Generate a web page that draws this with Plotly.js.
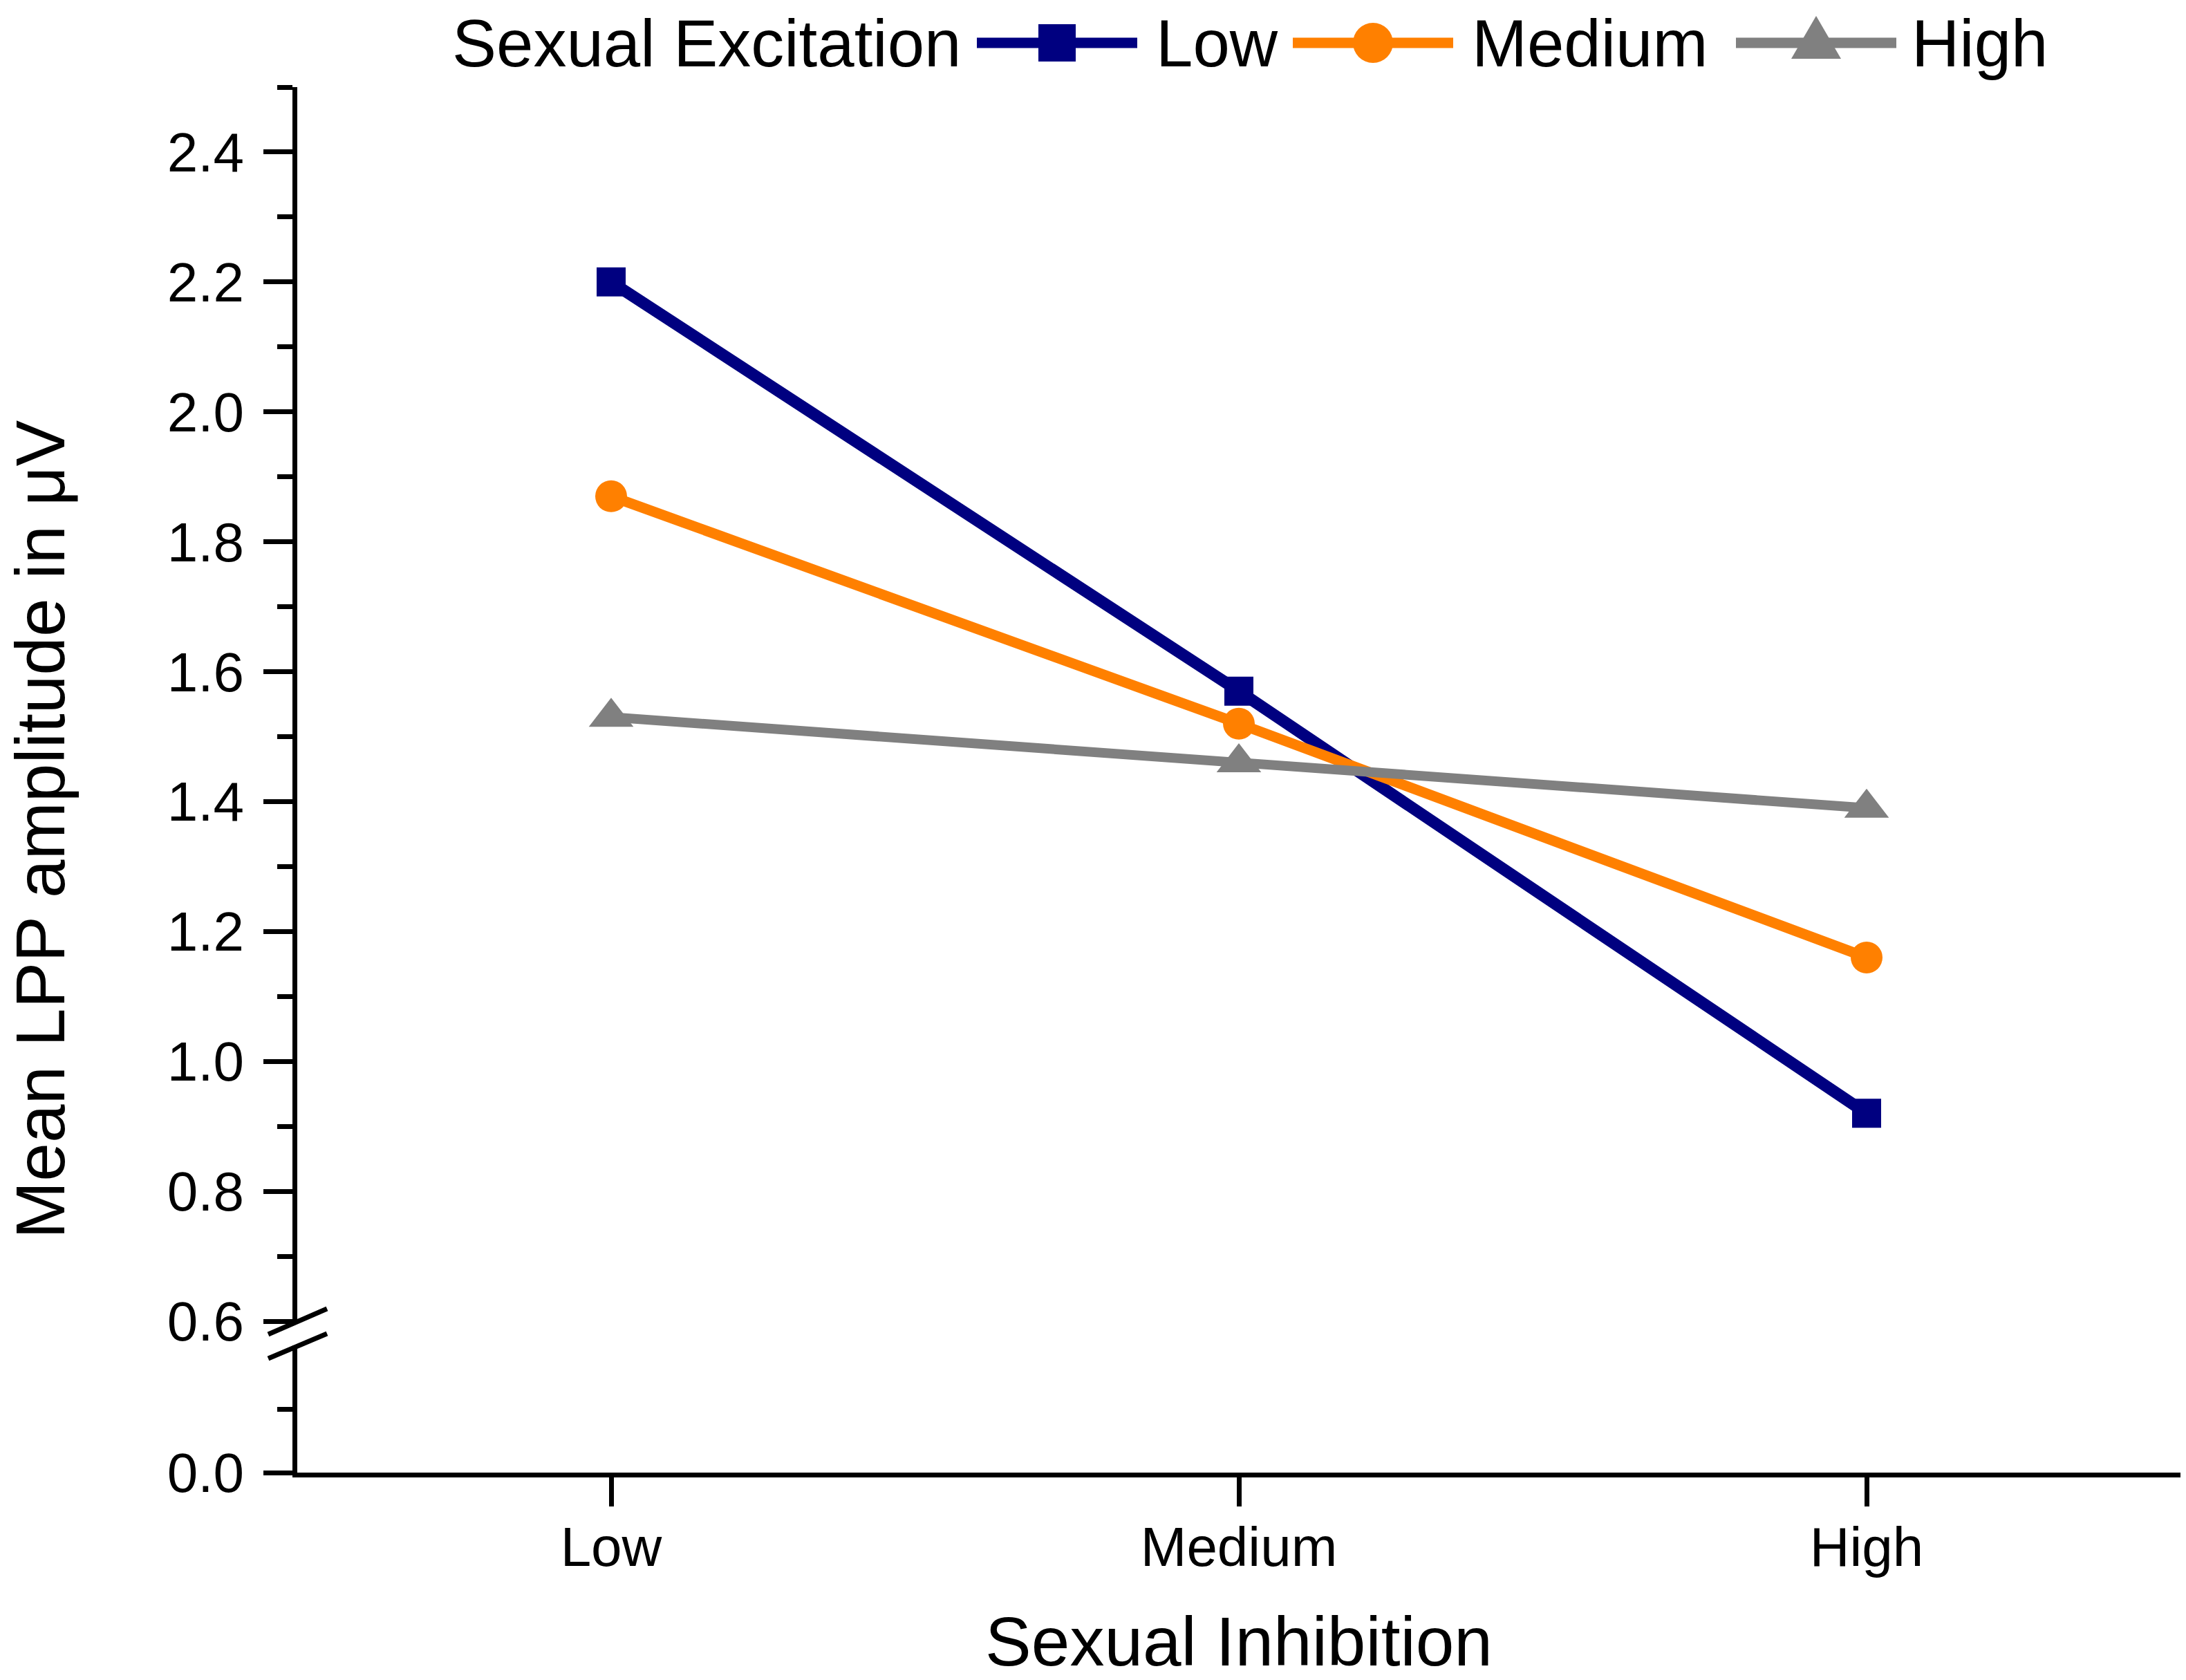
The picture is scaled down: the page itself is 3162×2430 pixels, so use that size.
<!DOCTYPE html>
<html>
<head>
<meta charset="utf-8">
<script src="https://cdn.plot.ly/plotly-3.0.1.min.js"></script>
<style>html,body{margin:0;padding:0;background:#fff}</style>
</head>
<body>
<div id="myDiv" style="width:3162px;height:2430px"></div>
<script>
// data
let inhibition = ['Low', 'Medium', 'High']
let seLow = [2.20, 1.57, 0.92]
let seMedium = [1.87, 1.52, 1.16]
let seHigh = [1.53, 1.46, 1.39]

let seriesNames = ['Low', 'Medium', 'High']
let seriesValues = [seLow, seMedium, seHigh]
let seriesColors = ['#000080', '#FF8000', '#808080']
let seriesSymbols = ['square', 'circle', 'triangle-up']
let markerSizes = [42, 46, 56]
let lineWidths = [17, 15, 14]

let upperTicks = [0.6, 0.8, 1.0, 1.2, 1.4, 1.6, 1.8, 2.0, 2.2, 2.4]
let lowerTicks = [0.0]
let lowerMinor = [0.3]

let legendTitle = 'Sexual Excitation'
let xTitle = 'Sexual Inhibition'
let yTitle = 'Mean LPP amplitude in μV'

// page geometry (pixels)
let W = 3162, H = 2430
let L = 430, R = 3154, T = 126, B = 2130
let lowerTop = 1946, upperBottom = 1911
let FONT = 'Arial, "Liberation Sans", sans-serif'

function px(x) { return (x - L) / (R - L) }
function py(y) { return (B - y) / (B - T) }

let data1 = []
for (let i = 0; i < seriesNames.length; i++) {
  data1.push({
    x: inhibition,
    y: seriesValues[i],
    name: seriesNames[i],
    xaxis: 'x',
    yaxis: 'y2',
    mode: 'lines+markers',
    type: 'scatter',
    cliponaxis: false,
    line: { color: seriesColors[i], width: lineWidths[i] },
    marker: { symbol: seriesSymbols[i], size: markerSizes[i], color: seriesColors[i] }
  })
}
// empty trace so the lower (0 - 0.6) part of the broken axis gets drawn
data1.push({ x: [], y: [], xaxis: 'x', yaxis: 'y', type: 'scatter', mode: 'lines', showlegend: false, hoverinfo: 'skip' })

let axisStyle = {
  showline: true, linewidth: 7, linecolor: 'black',
  ticks: 'outside', ticklen: 42, tickwidth: 7, tickcolor: 'black',
  showgrid: false, zeroline: false, fixedrange: true,
  tickfont: { family: FONT, size: 80, color: 'black' }
}

// axis break marks
let shapes = [
  { type: 'line', xref: 'paper', yref: 'paper', x0: px(388), y0: py(1930), x1: px(473), y1: py(1893),
    line: { color: 'black', width: 7 } },
  { type: 'line', xref: 'paper', yref: 'paper', x0: px(388), y0: py(1965), x1: px(473), y1: py(1929),
    line: { color: 'black', width: 7 } }
]

// custom legend across the top
let legY = 62
let legFont = 96
let legLineStart = [1413, 1870, 2511]
let legLen = 232
let legTextStart = [1670, 2127, 2763]
let annotations = [
  { text: legendTitle, xref: 'paper', yref: 'paper', x: px(1392), y: py(legY), xanchor: 'right', yanchor: 'middle',
    showarrow: false, font: { family: FONT, size: legFont, color: 'black' } },
  { text: yTitle, xref: 'paper', yref: 'paper', x: px(58), y: py(1200), xanchor: 'center', yanchor: 'middle',
    textangle: -90, showarrow: false, font: { family: FONT, size: 100, color: 'black' } }
]
for (let i = 0; i < seriesNames.length; i++) {
  let x0 = legLineStart[i], cx = x0 + legLen / 2
  shapes.push({ type: 'line', xref: 'paper', yref: 'paper', x0: px(x0), x1: px(x0 + legLen), y0: py(legY), y1: py(legY),
    line: { color: seriesColors[i], width: 15 } })
  if (seriesSymbols[i] == 'square') {
    shapes.push({ type: 'rect', xref: 'paper', yref: 'paper', x0: px(cx - 27), x1: px(cx + 27), y0: py(legY + 27), y1: py(legY - 27),
      fillcolor: seriesColors[i], line: { width: 0 } })
  } else if (seriesSymbols[i] == 'circle') {
    shapes.push({ type: 'circle', xref: 'paper', yref: 'paper', x0: px(cx - 29), x1: px(cx + 29), y0: py(legY + 29), y1: py(legY - 29),
      fillcolor: seriesColors[i], line: { width: 0 } })
  } else {
    let p = 'M' + px(cx - 36) + ',' + py(legY + 23) + ' L' + px(cx + 36) + ',' + py(legY + 23) + ' L' + px(cx) + ',' + py(legY - 39) + ' Z'
    shapes.push({ type: 'path', xref: 'paper', yref: 'paper', path: p, fillcolor: seriesColors[i], line: { width: 0 } })
  }
  annotations.push({ text: seriesNames[i], xref: 'paper', yref: 'paper', x: px(legTextStart[i]), y: py(legY),
    xanchor: 'left', yanchor: 'middle', showarrow: false, font: { family: FONT, size: legFont, color: 'black' } })
}

let layout = {
  width: W, height: H,
  margin: { l: L, r: W - R, t: T, b: H - B, pad: 0 },
  paper_bgcolor: 'white', plot_bgcolor: 'white',
  showlegend: false,
  font: { family: FONT, color: 'black' },
  xaxis: Object.assign({}, axisStyle, {
    type: 'category', categoryorder: 'array', categoryarray: inhibition,
    range: [-0.5, 2.5], anchor: 'y',
    ticklabelstandoff: -10,
    title: { text: xTitle, font: { family: FONT, size: 100, color: 'black' }, standoff: 88 }
  }),
  yaxis: Object.assign({}, axisStyle, {
    domain: [0, py(lowerTop)], range: [0, 0.6], anchor: 'x',
    tickmode: 'array', tickvals: lowerTicks, tickformat: '.1f',
    ticklabelstandoff: 12,
    minor: { tickmode: 'array', tickvals: lowerMinor, ticks: 'outside', ticklen: 22, tickwidth: 7, tickcolor: 'black' }
  }),
  yaxis2: Object.assign({}, axisStyle, {
    domain: [py(upperBottom), 1], range: [0.6, 2.5], anchor: 'x',
    tickmode: 'array', tickvals: upperTicks, tickformat: '.1f',
    ticklabelstandoff: 12,
    minor: { dtick: 0.1, tick0: 0, ticks: 'outside', ticklen: 22, tickwidth: 7, tickcolor: 'black' }
  }),
  shapes: shapes,
  annotations: annotations
}

Plotly.newPlot('myDiv', data1, layout, { displayModeBar: false, staticPlot: true })
</script>
</body>
</html>
